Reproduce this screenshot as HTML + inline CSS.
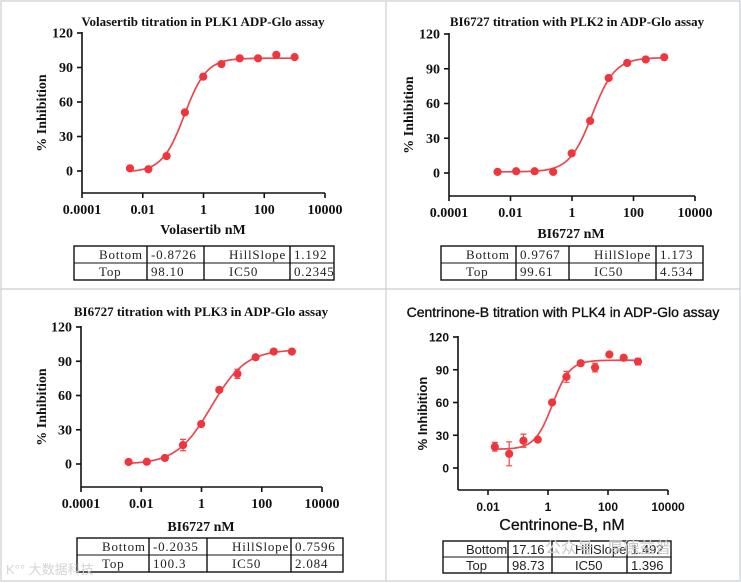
<!DOCTYPE html>
<html><head><meta charset="utf-8">
<style>
html,body{margin:0;padding:0;background:#fff;}
svg{display:block;}
.serif{font-family:"Liberation Serif","Noto Serif CJK SC",serif;}
.sans{font-family:"Liberation Sans","Noto Sans CJK SC",sans-serif;}
</style></head>
<body>
<svg id="root" width="741" height="583" viewBox="0 0 741 583" xmlns="http://www.w3.org/2000/svg">
<rect x="0" y="0" width="741" height="583" fill="#fff"/>
<g fill="none" stroke="#c9cdd6" stroke-width="1.2">
<rect x="1" y="1" width="739" height="580"/>
<line x1="386" y1="1" x2="386" y2="581"/>
<line x1="1" y1="289" x2="740" y2="289"/>
</g>
<g id="plots"></g>
<text x="545" y="553" class="sans" font-size="16" fill="#c8c8c8">公众号 · 厚德益普</text>
<text x="6" y="574" class="sans" font-size="13" fill="#d4d4d4">K°° 大数据科技</text>
</svg>
<script>
// ---- Panel 1: Volasertib / PLK1 ----
const p1Conc = [0.0038,0.0153,0.061,0.244,0.977,3.9,15.6,62.5,250,1000];
const p1Vals = [2.3,1.5,13,51,82,93,98,98,101,99];
const p1Err  = [0,0,0,0,0,0,0,0,0,0];
const p1Fit  = [-0.8726,98.10,1.192,0.2345];
const p1Ticks = [0.0001,0.01,1,100,10000];
const p1TickLabels = ["0.0001","0.01","1","100","10000"];
const p1Table = [["Bottom","-0.8726","HillSlope","1.192"],["Top","98.10","IC50","0.2345"]];
// ---- Panel 2: BI6727 / PLK2 ----
const p2Conc = [0.0038,0.0153,0.061,0.244,0.977,3.9,15.6,62.5,250,1000];
const p2Vals = [1,1.5,1.5,1,17,45,82,95,98,100];
const p2Err  = [0,0,0,0,0,0,0,0,0,0];
const p2Fit  = [0.9767,99.61,1.173,4.534];
const p2Ticks = [0.0001,0.01,1,100,10000];
const p2TickLabels = ["0.0001","0.01","1","100","10000"];
const p2Table = [["Bottom","0.9767","HillSlope","1.173"],["Top","99.61","IC50","4.534"]];
// ---- Panel 3: BI6727 / PLK3 ----
const p3Conc = [0.0038,0.0153,0.061,0.244,0.977,3.9,15.6,62.5,250,1000];
const p3Vals = [1.8,2,5.3,16.6,35,65,79,93.5,98.5,98.5];
const p3Err  = [0,0,0,5,0,0,4,0,0,0];
const p3Fit  = [-0.2035,100.3,0.7596,2.084];
const p3Ticks = [0.0001,0.01,1,100,10000];
const p3TickLabels = ["0.0001","0.01","1","100","10000"];
const p3Table = [["Bottom","-0.2035","HillSlope","0.7596"],["Top","100.3","IC50","2.084"]];
// ---- Panel 4: Centrinone-B / PLK4 ----
const p4Conc = [0.0169,0.0508,0.152,0.457,1.37,4.12,12.3,37,111,333,1000];
const p4Vals = [19.5,13,25,26,60,83.5,96,92,104,101,97.5];
const p4Err  = [4,11,6,0,0,5,0,4,0,0,3];
const p4Fit  = [17.16,98.73,1.492,1.396];
const p4Ticks = [0.01,1,100,10000];
const p4TickLabels = ["0.01","1","100","10000"];
const p4Table = [["Bottom","17.16","HillSlope","1.492"],["Top","98.73","IC50","1.396"]];
const yTicks = [0,30,60,90,120];

const NS="http://www.w3.org/2000/svg";
const root=document.getElementById('plots');
function mk(tag,attrs,parent,txt){const e=document.createElementNS(NS,tag);for(const k in attrs)e.setAttribute(k,attrs[k]);if(txt!==undefined)e.textContent=txt;(parent||root).appendChild(e);return e;}

function panel(cfg){
  const g=mk('g',{});
  
  
  const L=cfg.ax0, R=cfg.ax1, lx0=Math.log10(cfg.xmin), lx1=Math.log10(cfg.xmax);
  const sx=v=>L+(Math.log10(v)-lx0)/(lx1-lx0)*(R-L);
  const sy=v=>cfg.y0+(cfg.y120-cfg.y0)*v/120;
  const fcls=cfg.serif?'serif':'sans';
  const fw='bold';
  const t=mk('text',{x:cfg.tx,y:cfg.ty,'text-anchor':'middle','class':fcls,'font-size':cfg.tfs,'font-weight':cfg.serif?'bold':'normal',fill:'#111',stroke:cfg.serif?'none':'#111','stroke-width':0.35},g,cfg.title);
  
  
  const ax=mk('g',{stroke:'#111','stroke-width':1.6,fill:'none'},g);
  
  
  mk('line',{x1:L,y1:sy(120)-1,x2:L,y2:cfg.yb},ax);
  mk('line',{x1:L,y1:cfg.yb,x2:R,y2:cfg.yb},ax);
  yTicks.forEach(v=>{
    mk('line',{x1:L-5,y1:sy(v),x2:L,y2:sy(v)},ax);
    const tl=mk('text',{x:L-9,y:sy(v)+4.5,'text-anchor':'end','class':fcls,'font-size':cfg.serif?14:12,'font-weight':fw,fill:'#111',stroke:'none'},g,String(v));
    
    
  });
  cfg.ticks.forEach((v,i)=>{
    mk('line',{x1:sx(v),y1:cfg.yb,x2:sx(v),y2:cfg.yb+5},ax);
    const tl=mk('text',{x:sx(v),y:cfg.yb+21,'text-anchor':'middle','class':fcls,'font-size':cfg.serif?14:12,'font-weight':fw,fill:'#111',stroke:'none'},g,cfg.tickLabels[i]);
    
    
  });
  const xt=mk('text',{x:cfg.xtx,y:cfg.xty,'text-anchor':'middle','class':fcls,'font-size':cfg.serif?14:16,'font-weight':cfg.serif?'bold':'normal',fill:'#111',stroke:cfg.serif?'none':'#111','stroke-width':0.3},g,cfg.xtitle);
  
  
  const ymid=(sy(120)+cfg.yb)/2;
  const yt=mk('text',{x:cfg.ytx,y:ymid,transform:`rotate(-90 ${cfg.ytx} ${ymid})`,'text-anchor':'middle','class':fcls,'font-size':cfg.serif?14:13,'font-weight':'bold',fill:'#111'},g,'% Inhibition');
  
  
  const [bot,top,hill,ic]=cfg.fit;
  let d='';const a=Math.log10(cfg.conc[0]),b=Math.log10(cfg.conc[cfg.conc.length-1]);
  for(let i=0;i<=120;i++){const lx=a+(b-a)*i/120,x=Math.pow(10,lx);const y=bot+(top-bot)/(1+Math.pow(ic/x,hill));d+=(i?'L':'M')+sx(x).toFixed(2)+' '+sy(y).toFixed(2);}
  const c=mk('path',{d:d,fill:'none',stroke:'#e8484e','stroke-width':1.7},g);
  
  
  cfg.conc.forEach((x,i)=>{
    const e=cfg.err[i];
    if(e>0){
      const eb=mk('path',{d:`M${sx(x)} ${sy(cfg.vals[i]-e)}V${sy(cfg.vals[i]+e)}M${sx(x)-3} ${sy(cfg.vals[i]-e)}h6M${sx(x)-3} ${sy(cfg.vals[i]+e)}h6`,stroke:'#e8484e','stroke-width':1.2,fill:'none'},g);
      
      
    }
    const p=mk('circle',{cx:sx(x),cy:sy(cfg.vals[i]),r:4.1,fill:'#f0353d'},g);
    
    
  });
  const tb=mk('g',{},g);
  
  
  const T=cfg.tbl;
  mk('rect',{x:T.x0,y:T.y0,width:T.x1-T.x0,height:T.y1-T.y0,fill:'none',stroke:'#111','stroke-width':1.4},tb);
  const mid=(T.y0+T.y1)/2;
  mk('line',{x1:T.x0,y1:mid,x2:T.x1,y2:mid,stroke:'#111','stroke-width':1},tb);
  T.cols.forEach(cx=>mk('line',{x1:cx,y1:T.y0,x2:cx,y2:T.y1,stroke:'#111','stroke-width':1.4},tb));
  const edges=[T.x0].concat(T.cols,[T.x1]);
  cfg.table.forEach((row,r)=>{
    row.forEach((txt,ci)=>{
      const left=edges[ci];
      const isLabel=(ci%2===0);
      const x=isLabel?left+(cfg.serif?25:23):left+4;
      const tt=mk('text',{x:x,y:(r?mid:T.y0)+13,'text-anchor':'start','class':fcls,'font-size':13,fill:'#222','letter-spacing':cfg.serif?0.8:0},tb,txt);
      
      
    });
  });
}

panel({name:'plk1-chart',serif:true,title:'Volasertib titration in PLK1 ADP-Glo assay',tx:203,ty:26,tfs:13,
  ax0:82,ax1:325,xmin:0.0001,xmax:10000,y0:171,y120:33,yb:193,ticks:p1Ticks,tickLabels:p1TickLabels,
  xtitle:'Volasertib nM',xtx:203,xty:234,ytx:46,conc:p1Conc,vals:p1Vals,err:p1Err,fit:p1Fit,table:p1Table,
  tbl:{x0:74,x1:334,y0:246,y1:280,cols:[147,204,290]}});
panel({name:'plk2-chart',serif:true,title:'BI6727 titration with PLK2 in ADP-Glo assay',tx:577,ty:26,tfs:13,
  ax0:449,ax1:695,xmin:0.0001,xmax:10000,y0:173,y120:34,yb:196,ticks:p2Ticks,tickLabels:p2TickLabels,
  xtitle:'BI6727 nM',xtx:571,xty:238,ytx:413,conc:p2Conc,vals:p2Vals,err:p2Err,fit:p2Fit,table:p2Table,
  tbl:{x0:441,x1:703,y0:246,y1:280,cols:[516,569,656]}});
panel({name:'plk3-chart',serif:true,title:'BI6727 titration with PLK3 in ADP-Glo assay',tx:201,ty:316,tfs:13,
  ax0:81,ax1:322,xmin:0.0001,xmax:10000,y0:464,y120:327,yb:487,ticks:p3Ticks,tickLabels:p3TickLabels,
  xtitle:'BI6727 nM',xtx:201,xty:531,ytx:46,conc:p3Conc,vals:p3Vals,err:p3Err,fit:p3Fit,table:p3Table,
  tbl:{x0:77,x1:343,y0:538,y1:572,cols:[149,207,291]}});
panel({name:'plk4-chart',serif:false,title:'Centrinone-B titration with PLK4 in ADP-Glo assay',tx:563,ty:317,tfs:14,
  ax0:458,ax1:668,xmin:0.001,xmax:10000,y0:468,y120:337,yb:490,ticks:p4Ticks,tickLabels:p4TickLabels,
  xtitle:'Centrinone-B, nM',xtx:562,xty:530,ytx:427,conc:p4Conc,vals:p4Vals,err:p4Err,fit:p4Fit,table:p4Table,
  tbl:{x0:443,x1:671,y0:541,y1:573,cols:[508,552,627]}});
</script>
</body></html>
